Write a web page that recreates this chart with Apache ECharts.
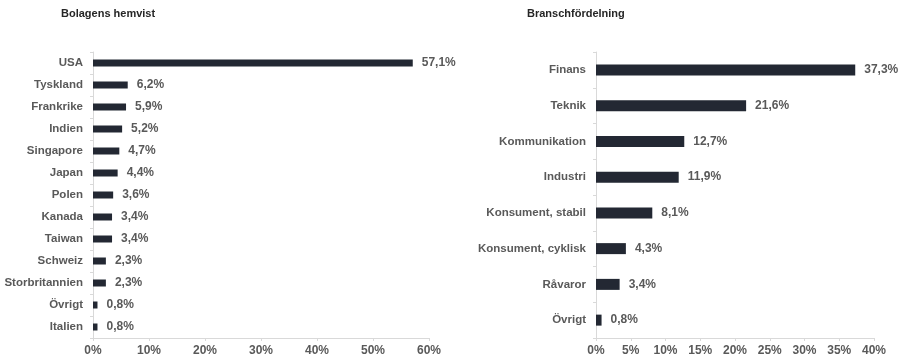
<!DOCTYPE html>
<html>
<head>
<meta charset="utf-8">
<script src="https://cdn.jsdelivr.net/npm/echarts@6/dist/echarts.min.js"></script>
<style>
html,body{margin:0;padding:0;background:#fff;}
#c{width:910px;height:363px;}
</style>
</head>
<body>
<div id="c"></div>
<script>
const countryCategories = ['USA','Tyskland','Frankrike','Indien','Singapore','Japan','Polen','Kanada','Taiwan','Schweiz','Storbritannien','Övrigt','Italien'];
const countryValues = [57.1,6.2,5.9,5.2,4.7,4.4,3.6,3.4,3.4,2.3,2.3,0.8,0.8];
const sectorCategories = ['Finans','Teknik','Kommunikation','Industri','Konsument, stabil','Konsument, cyklisk','Råvaror','Övrigt'];
const sectorValues = [37.3,21.6,12.7,11.9,8.1,4.3,3.4,0.8];
const titles = ['Bolagens hemvist','Branschfördelning'];

const FONT = '"Liberation Sans", Arial, sans-serif';
const LABEL = '#595959';
const BAR = '#232833';
const AXIS = '#d9d9d9';

function pct(v){ return String(v).replace('.', ',') + '%'; }

function xAxis(gridIndex, max, interval){
  return {
    type:'value', gridIndex, min:0, max, interval,
    axisLine:{show:true, lineStyle:{color:AXIS}},
    axisTick:{show:true, length:3, lineStyle:{color:AXIS}},
    splitLine:{show:false},
    axisLabel:{formatter:'{value}%', color:LABEL, fontWeight:'bold', fontSize:12, fontFamily:FONT, margin:7}
  };
}
function yAxis(gridIndex, data){
  return {
    type:'category', gridIndex, data, inverse:true,
    axisLine:{show:true, lineStyle:{color:AXIS}},
    axisTick:{show:true, length:3, lineStyle:{color:AXIS}},
    axisLabel:{color:LABEL, fontWeight:'bold', fontSize:11.5, fontFamily:FONT, margin:10}
  };
}
function barSeries(idx, data, width){
  return {
    type:'bar', xAxisIndex:idx, yAxisIndex:idx, data, barWidth:width,
    itemStyle:{color:BAR},
    label:{show:true, position:'right', distance:9, formatter:p=>pct(p.value),
      color:LABEL, fontWeight:'bold', fontSize:12, fontFamily:FONT},
    animation:false
  };
}

const chart = echarts.init(document.getElementById('c'), null, {renderer:'canvas'});
chart.setOption({
  animation:false,
  backgroundColor:'#fff',
  title:[
    {text:titles[0], left:56, top:3, textStyle:{fontSize:11, fontWeight:'bold', color:'#262626', fontFamily:FONT}},
    {text:titles[1], left:522, top:3, textStyle:{fontSize:11, fontWeight:'bold', color:'#262626', fontFamily:FONT}}
  ],
  grid:[
    {left:93, width:336, top:52, height:286},
    {left:596, width:278, top:52, height:286}
  ],
  xAxis:[xAxis(0,60,10), xAxis(1,40,5)],
  yAxis:[yAxis(0,countryCategories), yAxis(1,sectorCategories)],
  series:[barSeries(0,countryValues,7), barSeries(1,sectorValues,11)]
});
</script>
</body>
</html>
